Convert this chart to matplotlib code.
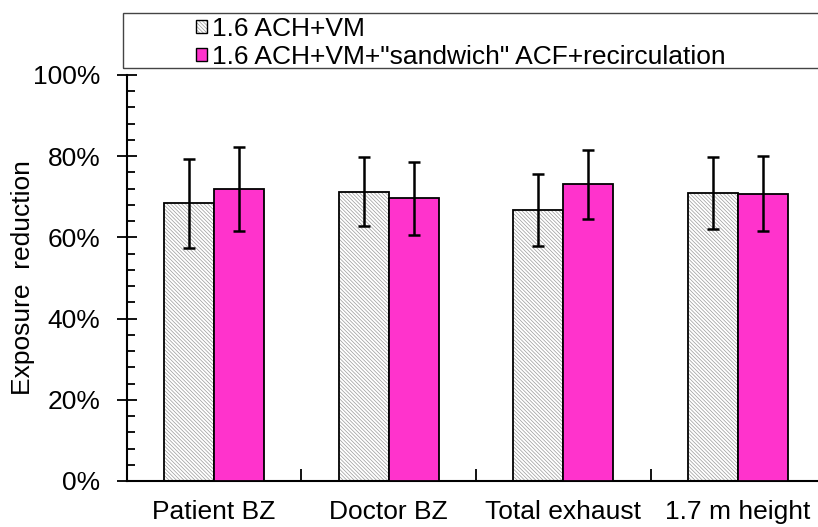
import numpy as np
import matplotlib
matplotlib.use('Agg')
import matplotlib.pyplot as plt
from matplotlib.patches import Rectangle, Patch
from matplotlib.ticker import MultipleLocator, FixedLocator, PercentFormatter

plt.rcParams['font.family'] = ['Liberation Sans', 'DejaVu Sans']
plt.rcParams['hatch.linewidth'] = 0.5

# данные
categories = ['Patient BZ', 'Doctor BZ', 'Total exhaust', '1.7 m height']
series_names = ['1.6 ACH+VM', '1.6 ACH+VM+"sandwich" ACF+recirculation']
base_vals = [68.4, 71.2, 66.8, 70.9]
base_err = [10.9, 8.5, 8.8, 8.8]
acf_vals = [71.9, 69.6, 73.1, 70.8]
acf_err = [10.3, 8.9, 8.5, 9.3]

W, H = 818, 527
fs = 19
fig = plt.figure(figsize=(W / 100, H / 100), dpi=100)
ax = fig.add_axes([126.7 / W, 46 / H, 1 - 126.7 / W, 406 / H])

x = np.arange(len(categories))
bw = 0.286
pink = '#ff33cc'
hatch = '\\' * 9
hcol = '#9a9a9a'

# серые столбцы со штриховкой: заливка + контур отдельно
ax.bar(x - bw / 2, base_vals, bw, color='white', edgecolor=hcol,
       hatch=hatch, linewidth=0, zorder=2)
ax.bar(x - bw / 2, base_vals, bw, fill=False, edgecolor='black', linewidth=1.3, zorder=3)
ax.bar(x + bw / 2, acf_vals, bw, color=pink, edgecolor='black', linewidth=1.3, zorder=3)

ekw = dict(fmt='none', ecolor='black', elinewidth=1.8, capsize=4, capthick=1.8, zorder=4)
ax.errorbar(x - bw / 2, base_vals, yerr=base_err, **ekw)
ax.errorbar(x + bw / 2, acf_vals, yerr=acf_err, **ekw)

ax.set_ylim(0, 100)
ax.set_xlim(-0.5, 3.457)
ax.yaxis.set_major_locator(MultipleLocator(20))
ax.yaxis.set_minor_locator(MultipleLocator(4))
ax.yaxis.set_major_formatter(PercentFormatter(decimals=0))
ax.tick_params(axis='y', which='major', direction='inout', length=14, width=1.3,
               labelsize=fs, pad=12)
ax.tick_params(axis='y', which='minor', direction='in', length=6, width=1.3)

ax.xaxis.set_major_locator(FixedLocator([0.5, 1.5, 2.5]))
ax.xaxis.set_major_formatter(plt.NullFormatter())
ax.xaxis.set_minor_locator(FixedLocator(x))
ax.set_xticklabels(categories, minor=True)
ax.tick_params(axis='x', which='major', direction='in', length=9, width=1.3)
ax.tick_params(axis='x', which='minor', length=0, labelsize=fs, pad=14)

for s in ['top', 'right']:
    ax.spines[s].set_visible(False)
for s in ['left', 'bottom']:
    ax.spines[s].set_linewidth(1.5)

fig.text(23 / W, 1 - 278 / H, 'Exposure  reduction', rotation=90,
         ha='center', va='center', fontsize=fs)

# рамка легенды, уходит за правый край
fig.patches.append(Rectangle((123 / W, 1 - 68 / H), 1.0, 55 / H,
                             transform=fig.transFigure, fill=False,
                             edgecolor='#444444', linewidth=1.0))
h1 = (Patch(facecolor='white', edgecolor=hcol, hatch=hatch, linewidth=0),
      Patch(fill=False, edgecolor='black', linewidth=1.0))
h2 = Patch(facecolor=pink, edgecolor='black', linewidth=1.0)
fig.legend([h1, h2], series_names, loc='upper left',
           bbox_to_anchor=(196 / W, 1 - 17 / H), frameon=False, fontsize=fs,
           borderpad=0, borderaxespad=0, handlelength=0.4, handleheight=0.4,
           handletextpad=0.2, labelspacing=0.15)

fig.savefig('out.png', dpi=100)
